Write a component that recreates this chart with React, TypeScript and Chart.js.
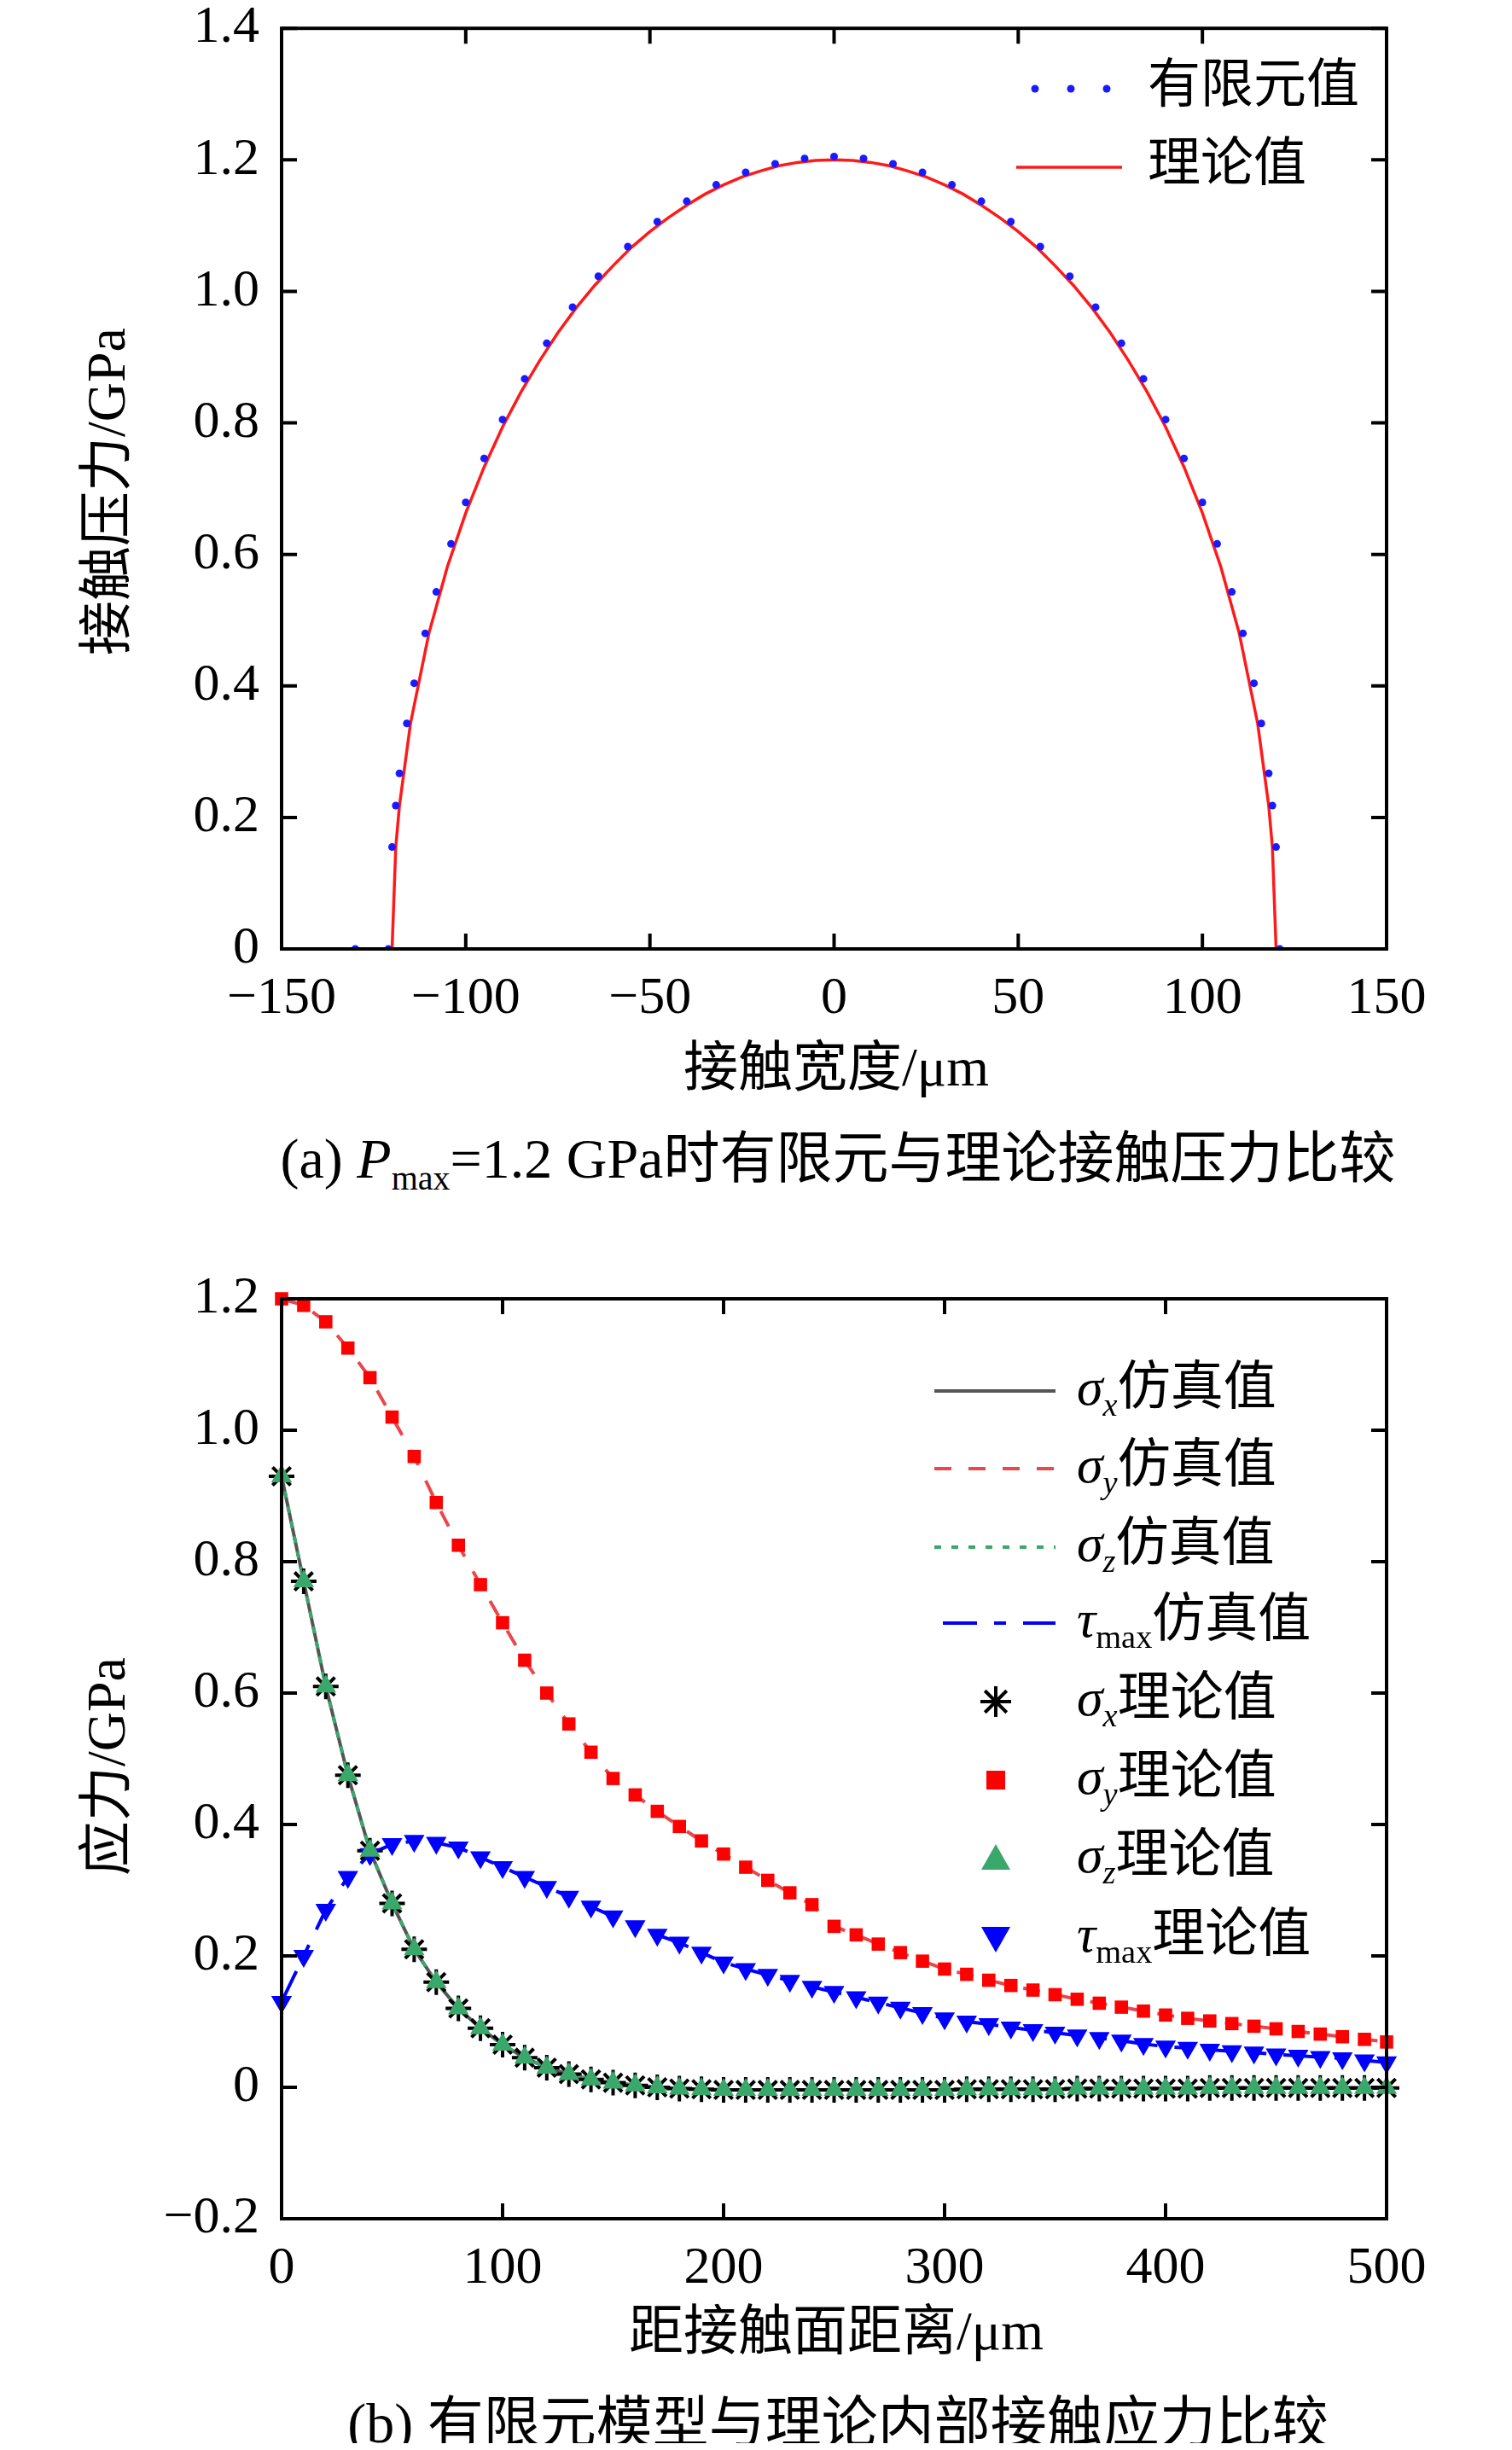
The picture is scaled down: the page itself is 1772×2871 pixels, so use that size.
import React, { useEffect, useRef } from 'react';
import Chart from 'chart.js/auto';

// (a) contact pressure
const topTheoryX = [-120, -119, -118, -115, -110, -105, -100, -95, -90, -85, -80, -75, -70, -65, -60, -55, -50, -45, -40, -35, -30, -25, -20, -15, -10, -5, 0, 5, 10, 15, 20, 25, 30, 35, 40, 45, 50, 55, 60, 65, 70, 75, 80, 85, 90, 95, 100, 105, 110, 115, 118, 119, 120];
const topTheoryY = [0, 0.155, 0.218, 0.343, 0.48, 0.581, 0.663, 0.733, 0.794, 0.847, 0.894, 0.937, 0.975, 1.009, 1.039, 1.067, 1.091, 1.112, 1.131, 1.148, 1.162, 1.174, 1.183, 1.191, 1.196, 1.199, 1.2, 1.199, 1.196, 1.191, 1.183, 1.174, 1.162, 1.148, 1.131, 1.112, 1.091, 1.067, 1.039, 1.009, 0.975, 0.937, 0.894, 0.847, 0.794, 0.733, 0.663, 0.581, 0.48, 0.343, 0.218, 0.155, 0];
const topFeX = [-130, -121, -120, -119, -118, -116, -114, -111, -108, -104, -100, -95, -90, -84, -78, -71, -64, -56, -48, -40, -32, -24, -16, -8, 0, 8, 16, 24, 32, 40, 48, 56, 64, 71, 78, 84, 90, 95, 100, 104, 108, 111, 114, 116, 118, 119, 120, 121];
const topFeY = [0, 0, 0.155, 0.218, 0.267, 0.343, 0.404, 0.48, 0.543, 0.616, 0.679, 0.746, 0.805, 0.867, 0.921, 0.976, 1.023, 1.068, 1.106, 1.137, 1.162, 1.181, 1.194, 1.202, 1.205, 1.202, 1.194, 1.181, 1.162, 1.137, 1.106, 1.068, 1.023, 0.976, 0.921, 0.867, 0.805, 0.746, 0.679, 0.616, 0.543, 0.48, 0.404, 0.343, 0.267, 0.218, 0.155, 0];

// (b) internal stresses
const depth = [0, 10, 20, 30, 40, 50, 60, 70, 80, 90, 100, 110, 120, 130, 140, 150, 160, 170, 180, 190, 200, 210, 220, 230, 240, 250, 260, 270, 280, 290, 300, 310, 320, 330, 340, 350, 360, 370, 380, 390, 400, 410, 420, 430, 440, 450, 460, 470, 480, 490, 500];
const sigmaX = [0.93, 0.77, 0.61, 0.475, 0.36, 0.28, 0.21, 0.16, 0.12, 0.09, 0.065, 0.045, 0.03, 0.02, 0.012, 0.007, 0.003, 0, -0.002, -0.003, -0.004, -0.004, -0.004, -0.004, -0.004, -0.004, -0.004, -0.004, -0.004, -0.004, -0.004, -0.003, -0.003, -0.003, -0.003, -0.003, -0.002, -0.002, -0.002, -0.002, -0.002, -0.002, -0.001, -0.001, -0.001, -0.001, -0.001, -0.001, -0.001, -0.001, -0.001];
const sigmaZ = [0.93, 0.77, 0.61, 0.475, 0.36, 0.28, 0.21, 0.16, 0.12, 0.09, 0.065, 0.045, 0.03, 0.02, 0.012, 0.007, 0.003, 0, -0.002, -0.003, -0.004, -0.004, -0.004, -0.004, -0.004, -0.004, -0.004, -0.004, -0.004, -0.004, -0.004, -0.003, -0.003, -0.003, -0.003, -0.003, -0.002, -0.002, -0.002, -0.002, -0.002, -0.002, -0.001, -0.001, -0.001, -0.001, -0.001, -0.001, -0.001, -0.001, -0.001];
const sigmaY = [1.2, 1.19, 1.165, 1.125, 1.08, 1.02, 0.96, 0.89, 0.825, 0.765, 0.707, 0.65, 0.6, 0.553, 0.51, 0.47, 0.445, 0.42, 0.397, 0.375, 0.355, 0.335, 0.315, 0.296, 0.278, 0.245, 0.232, 0.218, 0.205, 0.192, 0.18, 0.172, 0.163, 0.155, 0.148, 0.141, 0.134, 0.128, 0.122, 0.116, 0.11, 0.105, 0.101, 0.097, 0.093, 0.089, 0.085, 0.081, 0.077, 0.073, 0.069];
const tauMax = [0.13, 0.2, 0.27, 0.32, 0.355, 0.37, 0.375, 0.372, 0.365, 0.35, 0.335, 0.32, 0.305, 0.29, 0.275, 0.26, 0.245, 0.232, 0.22, 0.205, 0.19, 0.18, 0.171, 0.162, 0.153, 0.145, 0.137, 0.129, 0.121, 0.113, 0.105, 0.1, 0.096, 0.091, 0.087, 0.083, 0.079, 0.075, 0.071, 0.066, 0.062, 0.06, 0.057, 0.055, 0.053, 0.05, 0.048, 0.046, 0.044, 0.041, 0.038];

const FONT = "'Liberation Serif', 'Noto Sans CJK SC', serif";
const FS = 62;

type Part = { t: string; it?: boolean; sub?: boolean };

function drawRich(ctx: CanvasRenderingContext2D, x: number, y: number, parts: Part[]) {
  ctx.save();
  ctx.textBaseline = 'middle';
  ctx.textAlign = 'left';
  ctx.fillStyle = '#000';
  let cx = x;
  for (const p of parts) {
    const size = p.sub ? FS * 0.62 : FS;
    ctx.font = `${p.it ? 'italic ' : ''}${size}px ${FONT}`;
    ctx.fillText(p.t, cx, p.sub ? y + FS * 0.3 : y);
    cx += ctx.measureText(p.t).width;
  }
  ctx.restore();
}

function minus(v: number) {
  const s = Number.isInteger(v) ? String(v) : v.toFixed(1);
  return s.replace('-', '\u2212');
}

type LegendItem = { parts: Part[]; draw: (ctx: CanvasRenderingContext2D, y: number) => void };

function framePlugin(o: {
  xTitle: string; xTitlePos: [number, number];
  yTitle: string; yTitlePos: [number, number];
  legend: LegendItem[]; legendX: number; legendY: number[];
}) {
  return {
    id: 'frame',
    afterDraw(chart: any) {
      const ctx: CanvasRenderingContext2D = chart.ctx;
      const { left, top, right, bottom } = chart.chartArea;
      const xs = chart.scales.x;
      const ys = chart.scales.y;
      ctx.save();
      ctx.strokeStyle = '#000';
      ctx.lineWidth = 4;
      ctx.strokeRect(left, top, right - left, bottom - top);
      const tl = 18;
      ctx.beginPath();
      xs.ticks.forEach((t: any) => {
        const px = xs.getPixelForValue(t.value);
        ctx.moveTo(px, bottom); ctx.lineTo(px, bottom - tl);
        ctx.moveTo(px, top); ctx.lineTo(px, top + tl);
      });
      ys.ticks.forEach((t: any) => {
        const py = ys.getPixelForValue(t.value);
        ctx.moveTo(left, py); ctx.lineTo(left + tl, py);
        ctx.moveTo(right, py); ctx.lineTo(right - tl, py);
      });
      ctx.stroke();
      ctx.fillStyle = '#000';
      ctx.font = `64px ${FONT}`;
      ctx.textAlign = 'center';
      ctx.textBaseline = 'middle';
      ctx.fillText(o.xTitle, o.xTitlePos[0], o.xTitlePos[1]);
      ctx.translate(o.yTitlePos[0], o.yTitlePos[1]);
      ctx.rotate(-Math.PI / 2);
      ctx.fillText(o.yTitle, 0, 0);
      ctx.restore();
      o.legend.forEach((it, i) => {
        ctx.save();
        it.draw(ctx, o.legendY[i]);
        ctx.restore();
        drawRich(ctx, o.legendX, o.legendY[i], it.parts);
      });
    },
  };
}

function lineSample(x0: number, x1: number, color: string, width: number, dash: number[]) {
  return (ctx: CanvasRenderingContext2D, y: number) => {
    ctx.strokeStyle = color;
    ctx.lineWidth = width;
    ctx.setLineDash(dash);
    ctx.beginPath();
    ctx.moveTo(x0, y);
    ctx.lineTo(x1, y);
    ctx.stroke();
  };
}

function markerSample(cx: number, kind: string, color: string) {
  return (ctx: CanvasRenderingContext2D, y: number) => {
    ctx.fillStyle = color;
    ctx.strokeStyle = color;
    if (kind === 'star') {
      ctx.lineWidth = 4;
      const r = 18;
      ctx.beginPath();
      for (let k = 0; k < 4; k++) {
        const a = (Math.PI / 4) * k;
        ctx.moveTo(cx - r * Math.cos(a), y - r * Math.sin(a));
        ctx.lineTo(cx + r * Math.cos(a), y + r * Math.sin(a));
      }
      ctx.stroke();
    } else if (kind === 'rect') {
      ctx.fillRect(cx - 11, y - 11, 22, 22);
    } else {
      const s = kind === 'up' ? -1 : 1;
      ctx.beginPath();
      ctx.moveTo(cx - 17, y - s * 13);
      ctx.lineTo(cx + 17, y - s * 13);
      ctx.lineTo(cx, y + s * 17);
      ctx.closePath();
      ctx.fill();
    }
  };
}

function axes(xMin: number, xMax: number, xStep: number, yMin: number, yMax: number, yStep: number, bottomH: number) {
  const tickFont = { family: FONT, size: FS };
  return {
    x: {
      type: 'linear', min: xMin, max: xMax,
      grid: { display: false }, border: { display: false },
      ticks: { stepSize: xStep, font: tickFont, color: '#000', padding: 14, maxRotation: 0, callback: (v: number) => minus(v) },
      afterFit: (s: any) => { s.height = bottomH; },
    },
    y: {
      type: 'linear', min: yMin, max: yMax,
      grid: { display: false }, border: { display: false },
      ticks: { stepSize: yStep, font: tickFont, color: '#000', padding: 18, callback: (v: number) => (Math.abs(v) < 1e-9 ? '0' : minus(Number(v.toFixed(1))).replace(/^(\u2212?\d)$/, '$1.0')) },
      afterFit: (s: any) => { s.width = 330; },
    },
  };
}

function useChart(build: () => any) {
  const ref = useRef<HTMLCanvasElement>(null);
  useEffect(() => {
    if (!ref.current) return;
    const chart = new Chart(ref.current, build());
    return () => chart.destroy();
  }, []);
  return ref;
}

const pts = (xs: number[], ys: number[]) => xs.map((x, i) => ({ x, y: ys[i] }));

const TopChart: React.FC = () => {
  const ref = useChart(() => ({
    type: 'scatter',
    data: {
      datasets: [
        { label: '有限元值', data: pts(topFeX, topFeY), showLine: false, pointRadius: 4.5, pointBackgroundColor: '#1a1aff', pointBorderWidth: 0, order: 1 },
        { label: '理论值', data: pts(topTheoryX, topTheoryY), showLine: true, borderColor: '#ff1a1a', borderWidth: 3.5, pointRadius: 0, order: 2 },
      ],
    },
    options: {
      animation: false, responsive: false,
      layout: { padding: { top: 31, right: 147, left: 0, bottom: 0 } },
      plugins: { legend: { display: false }, tooltip: { enabled: false } },
      scales: axes(-150, 150, 50, 0, 1.4, 0.2, 183),
    },
    plugins: [framePlugin({
      xTitle: '接触宽度/μm', xTitlePos: [980, 1277],
      yTitle: '接触压力/GPa', yTitlePos: [129, 598],
      legendX: 1345, legendY: [126, 218],
      legend: [
        { parts: [{ t: '有限元值' }], draw: (ctx, y) => { ctx.fillStyle = '#1a1aff'; [1213, 1255, 1297].forEach((x) => { ctx.beginPath(); ctx.arc(x, y, 4.5, 0, Math.PI * 2); ctx.fill(); }); } },
        { parts: [{ t: '理论值' }], draw: lineSample(1191, 1315, '#ff1a1a', 3.5, []) },
      ],
    })],
  }));
  return <canvas ref={ref} width={1772} height={1317} style={{ position: 'absolute', left: 0, top: -22, width: 1772, height: 1317 }} />;
};

const BottomChart: React.FC = () => {
  const ref = useChart(() => ({
    type: 'scatter',
    data: {
      datasets: [
        { data: pts(depth, sigmaX), showLine: true, borderColor: '#555', borderWidth: 4, pointRadius: 0, order: 8 },
        { data: pts(depth, sigmaY), showLine: true, borderColor: '#e8474b', borderWidth: 4, borderDash: [20, 20], pointRadius: 0, order: 7 },
        { data: pts(depth, sigmaZ), showLine: true, borderColor: '#3aa86b', borderWidth: 4, borderDash: [8, 10], pointRadius: 0, order: 6 },
        { data: pts(depth, tauMax), showLine: true, borderColor: '#0000ff', borderWidth: 4, borderDash: [40, 20, 14, 20], pointRadius: 0, order: 5 },
        { data: pts(depth, sigmaX), showLine: false, pointStyle: 'star', pointRadius: 15, pointBorderWidth: 4, pointBorderColor: '#000', order: 4 },
        { data: pts(depth, sigmaY), showLine: false, pointStyle: 'rect', pointRadius: 11, pointBackgroundColor: '#ff0000', pointBorderWidth: 0, order: 3 },
        { data: pts(depth, sigmaZ), showLine: false, pointStyle: 'triangle', pointRadius: 14, pointBackgroundColor: '#3aa86b', pointBorderWidth: 0, order: 1 },
        { data: pts(depth, tauMax), showLine: false, pointStyle: 'triangle', rotation: 180, pointRadius: 14, pointBackgroundColor: '#0000ff', pointBorderWidth: 0, order: 2 },
      ],
    },
    options: {
      animation: false, responsive: false, clip: false,
      layout: { padding: { top: 132, right: 147, left: 0, bottom: 0 } },
      plugins: { legend: { display: false }, tooltip: { enabled: false } },
      scales: axes(0, 500, 100, -0.2, 1.2, 0.2, 182),
    },
    plugins: [framePlugin({
      xTitle: '距接触面距离/μm', xTitlePos: [980, 1346],
      yTitle: '应力/GPa', yTitlePos: [129, 680],
      legendX: 1262, legendY: [240, 331, 423, 512, 604, 696, 788, 881],
      legend: [
        { parts: [{ t: 'σ', it: true }, { t: 'x', it: true, sub: true }, { t: '仿真值' }], draw: lineSample(1095, 1237, '#555', 4, []) },
        { parts: [{ t: 'σ', it: true }, { t: 'y', it: true, sub: true }, { t: '仿真值' }], draw: lineSample(1095, 1237, '#e8474b', 4, [20, 20]) },
        { parts: [{ t: 'σ', it: true }, { t: 'z', it: true, sub: true }, { t: '仿真值' }], draw: lineSample(1095, 1237, '#3aa86b', 4, [8, 12]) },
        { parts: [{ t: 'τ', it: true }, { t: 'max', sub: true }, { t: '仿真值' }], draw: lineSample(1105, 1237, '#0000ff', 4, [40, 20, 14, 20]) },
        { parts: [{ t: 'σ', it: true }, { t: 'x', it: true, sub: true }, { t: '理论值' }], draw: markerSample(1167, 'star', '#000') },
        { parts: [{ t: 'σ', it: true }, { t: 'y', it: true, sub: true }, { t: '理论值' }], draw: markerSample(1167, 'rect', '#ff0000') },
        { parts: [{ t: 'σ', it: true }, { t: 'z', it: true, sub: true }, { t: '理论值' }], draw: markerSample(1167, 'up', '#3aa86b') },
        { parts: [{ t: 'τ', it: true }, { t: 'max', sub: true }, { t: '理论值' }], draw: markerSample(1167, 'down', '#0000ff') },
      ],
    })],
  }));
  return <canvas ref={ref} width={1772} height={1392} style={{ position: 'absolute', left: 0, top: 1390, width: 1772, height: 1392 }} />;
};

const capStyle: React.CSSProperties = {
  position: 'absolute', left: 96, width: 1772, textAlign: 'center',
  fontFamily: FONT, fontSize: 66, lineHeight: '80px', color: '#000', whiteSpace: 'nowrap',
};

const App: React.FC = () => (
  <div style={{ position: 'relative', margin: -8, width: 1772, height: 2871, background: '#fff', overflow: 'hidden' }}>
    <TopChart />
    <div style={{ ...capStyle, top: 1318 }}>
      (a) <i>P</i><sub style={{ fontSize: 40 }}>max</sub>=1.2 GPa时有限元与理论接触压力比较
    </div>
    <BottomChart />
    <div style={{ ...capStyle, top: 2800 }}>(b) 有限元模型与理论内部接触应力比较</div>
  </div>
);

export default App;
